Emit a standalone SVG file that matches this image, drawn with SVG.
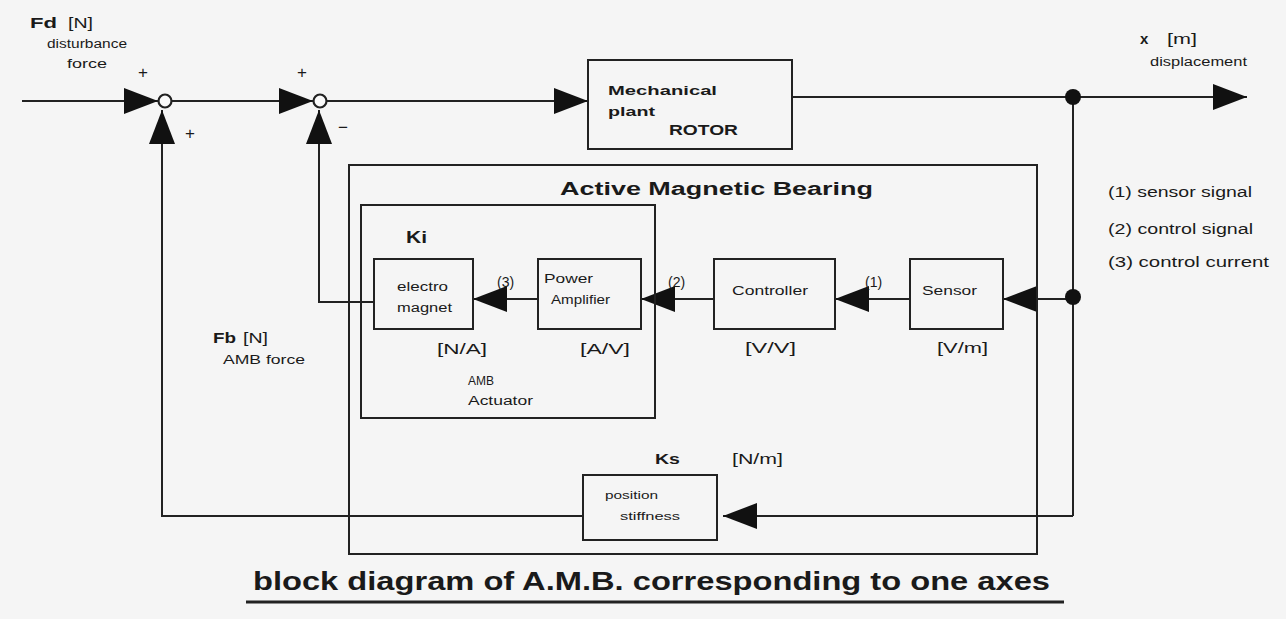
<svg xmlns="http://www.w3.org/2000/svg" width="1286" height="619" viewBox="0 0 1286 619">
<style>
text{font-family:"Liberation Sans",Arial,sans-serif;fill:#1a1a1a}
.b{font-weight:bold}
.s{font-size:12px}
.m{font-size:14px}
.box{fill:none;stroke:#222;stroke-width:2}
.ln{fill:none;stroke:#222;stroke-width:2}
.sum{fill:#fafafa;stroke:#222;stroke-width:2.2}
.dot{fill:#111}
</style>
<defs>
<marker id="ah" markerUnits="userSpaceOnUse" markerWidth="34" markerHeight="26" refX="34" refY="13" orient="auto">
<path d="M0,0 L34,13 L0,26 z" fill="#111"/>
</marker>
</defs>
<rect x="0" y="0" width="1286" height="619" fill="#f5f5f5"/>

<g id="connectors">
<path class="ln" d="M22,101 H158" marker-end="url(#ah)"/>
<path class="ln" d="M172,101 H313" marker-end="url(#ah)"/>
<path class="ln" d="M327,101 H588" marker-end="url(#ah)"/>
<path class="ln" d="M792,97 H1247" marker-end="url(#ah)"/>
<path class="ln" d="M1073,97 V516"/>
<path class="ln" d="M1073,299 H1003" marker-end="url(#ah)"/>
<path class="ln" d="M910,299 H835" marker-end="url(#ah)"/>
<path class="ln" d="M714,299 H641" marker-end="url(#ah)"/>
<path class="ln" d="M538,299 H473" marker-end="url(#ah)"/>
<path class="ln" d="M374,302 H319 V110" marker-end="url(#ah)"/>
<path class="ln" d="M1073,516 H723" marker-end="url(#ah)"/>
<path class="ln" d="M583,516 H162 V110" marker-end="url(#ah)"/>
<circle class="dot" cx="1073" cy="97" r="8"/>
<circle class="dot" cx="1073" cy="297" r="8"/>
</g>

<g id="sum1">
<circle class="sum" cx="165" cy="101" r="6.5"/>
<text x="143" y="78" font-size="17" text-anchor="middle">+</text>
<text x="190" y="139" font-size="17" text-anchor="middle">+</text>
</g>
<g id="sum2">
<circle class="sum" cx="320" cy="101" r="6.5"/>
<text x="302" y="78" font-size="17" text-anchor="middle">+</text>
<text x="343" y="133" font-size="17" text-anchor="middle">−</text>
</g>

<g id="disturbance">
<text class="b" x="30" y="28" font-size="15" textLength="27" lengthAdjust="spacingAndGlyphs">Fd</text>
<text x="68" y="28" font-size="15" textLength="25" lengthAdjust="spacingAndGlyphs">[N]</text>
<text class="s" x="47" y="48" textLength="80" lengthAdjust="spacingAndGlyphs">disturbance</text>
<text class="s" x="67" y="68" textLength="40" lengthAdjust="spacingAndGlyphs">force</text>
</g>

<g id="displacement">
<text class="b" x="1140" y="44" font-size="15">x</text>
<text x="1167" y="44" font-size="15" textLength="30" lengthAdjust="spacingAndGlyphs">[m]</text>
<text class="s" x="1150" y="66" textLength="97" lengthAdjust="spacingAndGlyphs">displacement</text>
</g>

<g id="plant">
<rect class="box" x="588" y="60" width="204" height="89"/>
<text class="b" x="608" y="95" font-size="13" textLength="109" lengthAdjust="spacingAndGlyphs">Mechanical</text>
<text class="b" x="608" y="116" font-size="13" textLength="47" lengthAdjust="spacingAndGlyphs">plant</text>
<text class="b" x="669" y="135" font-size="14" textLength="69" lengthAdjust="spacingAndGlyphs">ROTOR</text>
</g>

<g id="legend">
<text class="m" x="1108" y="197" textLength="144" lengthAdjust="spacingAndGlyphs">(1) sensor signal</text>
<text class="m" x="1108" y="234" textLength="145" lengthAdjust="spacingAndGlyphs">(2) control signal</text>
<text class="m" x="1108" y="267" textLength="161" lengthAdjust="spacingAndGlyphs">(3) control current</text>
</g>

<g id="amb">
<rect class="box" x="349" y="165" width="688" height="389"/>
<text class="b" x="560" y="195" font-size="18" textLength="313" lengthAdjust="spacingAndGlyphs">Active  Magnetic  Bearing</text>
</g>

<g id="actuator">
<rect class="box" x="361" y="205" width="294" height="213"/>
<text class="b" x="406" y="243" font-size="16" textLength="21" lengthAdjust="spacingAndGlyphs">Ki</text>
<text class="s" x="468" y="385" textLength="26" lengthAdjust="spacingAndGlyphs">AMB</text>
<text class="s" x="468" y="405" textLength="65" lengthAdjust="spacingAndGlyphs">Actuator</text>
</g>

<g id="electromagnet">
<rect class="box" x="374" y="259" width="99" height="70"/>
<text class="s" x="397" y="291" textLength="51" lengthAdjust="spacingAndGlyphs">electro</text>
<text class="s" x="397" y="312" textLength="55" lengthAdjust="spacingAndGlyphs">magnet</text>
<text class="m" x="437" y="354" textLength="50" lengthAdjust="spacingAndGlyphs">[N/A]</text>
<text class="m" x="497" y="287">(3)</text>
</g>

<g id="amplifier">
<rect class="box" x="538" y="259" width="103" height="70"/>
<text class="s" x="544" y="283" textLength="49" lengthAdjust="spacingAndGlyphs">Power</text>
<text class="s" x="551" y="304" textLength="59" lengthAdjust="spacingAndGlyphs">Amplifier</text>
<text class="m" x="580" y="354" textLength="50" lengthAdjust="spacingAndGlyphs">[A/V]</text>
<text class="m" x="668" y="287">(2)</text>
</g>

<g id="controller">
<rect class="box" x="714" y="259" width="121" height="70"/>
<text class="s" x="732" y="295" textLength="76" lengthAdjust="spacingAndGlyphs">Controller</text>
<text class="m" x="745" y="353" textLength="51" lengthAdjust="spacingAndGlyphs">[V/V]</text>
<text class="m" x="865" y="287">(1)</text>
</g>

<g id="sensor">
<rect class="box" x="910" y="259" width="93" height="70"/>
<text class="s" x="922" y="295" textLength="55" lengthAdjust="spacingAndGlyphs">Sensor</text>
<text class="m" x="937" y="353" textLength="51" lengthAdjust="spacingAndGlyphs">[V/m]</text>
</g>

<g id="stiffness">
<rect class="box" x="583" y="475" width="134" height="65"/>
<text class="b" x="655" y="464" font-size="15" textLength="25" lengthAdjust="spacingAndGlyphs">Ks</text>
<text class="m" x="732" y="464" textLength="51" lengthAdjust="spacingAndGlyphs">[N/m]</text>
<text font-size="11" x="605" y="499" textLength="53" lengthAdjust="spacingAndGlyphs">position</text>
<text font-size="11" x="620" y="520" textLength="60" lengthAdjust="spacingAndGlyphs">stiffness</text>
</g>

<g id="ambforce">
<text class="b" x="213" y="343" font-size="15" textLength="23" lengthAdjust="spacingAndGlyphs">Fb</text>
<text x="243" y="343" font-size="15" textLength="25" lengthAdjust="spacingAndGlyphs">[N]</text>
<text class="s" x="223" y="364" textLength="82" lengthAdjust="spacingAndGlyphs">AMB force</text>
</g>

<g id="title">
<text class="b" x="253" y="590" font-size="26" textLength="797" lengthAdjust="spacingAndGlyphs">block diagram of A.M.B. corresponding to one axes</text>
<line x1="246" y1="602" x2="1064" y2="602" stroke="#222" stroke-width="3"/>
</g>
</svg>
